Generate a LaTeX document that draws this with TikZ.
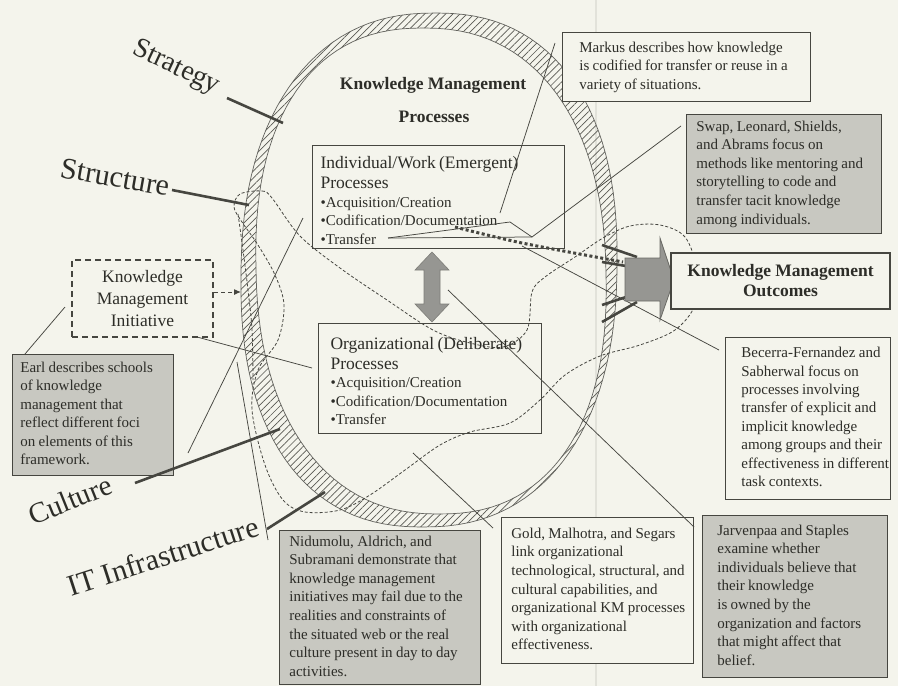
\documentclass[tikz,border=0pt]{standalone}
\usepackage{fontspec}
\setmainfont{Liberation Serif}
\usetikzlibrary{patterns.meta,arrows.meta}
\definecolor{bg}{RGB}{244,244,236}
\definecolor{ink}{RGB}{45,45,40}
\definecolor{linec}{RGB}{70,70,64}
\definecolor{boxgray}{RGB}{200,200,193}
\definecolor{arrowgray}{RGB}{150,150,146}
\definecolor{foldc}{RGB}{226,226,218}
\newcommand{\fs}[2]{\fontsize{#1}{#2}\selectfont}
\newcommand{\rows}[1]{\begin{tabular}{@{}l@{}}#1\end{tabular}}
\begin{document}
\begin{tikzpicture}[x=1pt,y=-1pt,
  every node/.style={text=ink},
  lab/.style={inner sep=0pt},
  callout/.style={draw=linec, line width=0.8pt, anchor=north west, align=left, inner ysep=0pt},
  procbox/.style={draw=linec, line width=1.1pt, anchor=north west, align=left, inner ysep=0pt},
  thinc/.style={draw=linec, line width=0.75pt},
  thickc/.style={draw=linec, line width=2.6pt},
  ringline/.style={draw=linec!85, line width=0.7pt},
  blob/.style={draw=linec, line width=0.8pt, dash pattern=on 3pt off 2pt},
  ringplot/.style={domain=0.5:360.5, samples=121, variable=\t},
]
\useasboundingbox (0,0) rectangle (898,686);
\fill[bg] (0,0) rectangle (898,686);
\draw[foldc, line width=1.2pt] (596,0) -- (596,686);

% hatched ring (outer and inner rounded ovals)
\path[pattern={Lines[angle=45,distance=5pt,line width=0.7pt]}, pattern color=linec!90, even odd rule]
  plot[ringplot] ({429+188*cos(\t)*abs(cos(\t))^(-0.13)-6*sin(\t)}, {270+257*sin(\t)*abs(sin(\t))^(-0.13)}) -- cycle
  plot[ringplot] ({431+175*cos(\t)*abs(cos(\t))^(-0.13)+8*sin(\t)}, {271+243*sin(\t)*abs(sin(\t))^(-0.13)}) -- cycle;
\draw[ringline] plot[ringplot] ({429+188*cos(\t)*abs(cos(\t))^(-0.13)-6*sin(\t)}, {270+257*sin(\t)*abs(sin(\t))^(-0.13)}) -- cycle;
\draw[ringline] plot[ringplot] ({431+175*cos(\t)*abs(cos(\t))^(-0.13)+8*sin(\t)}, {271+243*sin(\t)*abs(sin(\t))^(-0.13)}) -- cycle;

% situated web (dashed blob)
\draw[blob] plot[smooth cycle, tension=0.55] coordinates {(240,194) (262,191) (272,198) (300,236) (340,268) (387,300) (433,330) (470,343) (503,347) (527,330) (532,292) (545,277) (575,257) (603,238) (630,226) (660,225) (685,237) (697,270) (695,305) (675,330) (640,345) (600,356) (565,375) (540,400) (510,423) (470,432) (440,445) (405,470) (370,495) (340,510) (305,512) (283,500) (265,465) (252,410) (258,370) (278,340) (284,305) (275,275) (258,245) (242,222) (234,207)};
\draw[blob] plot[smooth, tension=0.6] coordinates {(238,214) (243,250) (248,290) (252,330) (253,380)};

% callout boxes
\node[callout, fill=bg, inner xsep=17pt, text width=214pt, minimum width=248pt, minimum height=69pt] (markus) at (562,32)
  {\fs{15}{18.6}\rows{Markus describes how knowledge\\is codified for transfer or reuse in a\\variety of situations.}};
\node[callout, fill=boxgray, inner xsep=10pt, text width=175pt, minimum width=195pt, minimum height=119pt] (swap) at (686,114)
  {\fs{15}{18.6}\rows{Swap, Leonard, Shields,\\and Abrams focus on\\methods like mentoring and\\storytelling to code and\\transfer tacit knowledge\\among individuals.}};
\node[callout, fill=bg, inner xsep=16pt, text width=133pt, minimum width=165pt, minimum height=162pt] (becerra) at (725,337)
  {\fs{15}{18.4}\rows{Becerra-Fernandez and\\Sabherwal focus on\\processes involving\\transfer of explicit and\\implicit knowledge\\among groups and their\\effectiveness in different\\task contexts.}};
\node[callout, fill=boxgray, inner xsep=8pt, text width=145pt, minimum width=161pt, minimum height=121pt] (earl) at (12,354)
  {\fs{15}{18.4}\rows{Earl describes schools\\of knowledge\\management that\\reflect different foci\\on elements of this\\framework.}};
\node[callout, fill=boxgray, inner xsep=10pt, text width=181pt, minimum width=201pt, minimum height=154pt] (nidumolu) at (279,530)
  {\fs{15}{18.6}\rows{Nidumolu, Aldrich, and\\Subramani demonstrate that\\knowledge management\\initiatives may fail due to the\\realities and constraints of\\the situated web or the real\\culture present in day to day\\activities.}};
\node[callout, fill=bg, inner xsep=10pt, text width=172pt, minimum width=192pt, minimum height=146pt] (gold) at (501,517)
  {\fs{15}{18.6}\rows{Gold, Malhotra, and Segars\\link organizational\\technological, structural, and\\cultural capabilities, and\\organizational KM processes\\with organizational\\effectiveness.}};
\node[callout, fill=boxgray, inner xsep=15pt, text width=155pt, minimum width=185pt, minimum height=162pt] (jarvenpaa) at (702,515)
  {\fs{15}{18.6}\rows{Jarvenpaa and Staples\\examine whether\\individuals believe that\\their knowledge\\is owned by the\\organization and factors\\that might affect that\\belief.}};

% process boxes
\node[procbox, inner xsep=8pt, text width=236pt, minimum height=103pt] (indiv) at (312,145)
  {\fs{17.5}{20}\rule{0pt}{19pt}Individual/Work (Emergent)\\Processes\par\fs{15}{18.5}\textbullet Acquisition/Creation\\\textbullet Codification/Documentation\\\textbullet Transfer\par};
\node[procbox, inner xsep=12pt, text width=199pt, minimum height=110pt] (org) at (318,323)
  {\fs{17.5}{20}\rule{0pt}{17pt}Organizational (Deliberate)\\Processes\par\fs{15}{18.5}\textbullet Acquisition/Creation\\\textbullet Codification/Documentation\\\textbullet Transfer\par};

% KM processes title
\node[font=\fs{17.5}{20}\bfseries] (kmp1) at (433,85) {Knowledge Management};
\node[font=\fs{17.5}{20}\bfseries] (kmp2) at (434,117) {Processes};

% KM initiative
\node[draw=linec, line width=1.6pt, dash pattern=on 6pt off 4pt, minimum width=141pt, minimum height=77pt, align=center, font=\fs{17.5}{22}] (kmi) at (142.5,298.5) {Knowledge\\Management\\Initiative};
\coordinate (kmiA) at (214,292);
\coordinate (kmiB) at (241,292);
\draw[linec, line width=1pt, dash pattern=on 4pt off 3pt, -{Latex[length=7pt,width=6pt]}] (kmiA) -- (kmiB);

% labels
\node[lab, rotate=-25, font=\fs{28}{30}] (strategy) at (176,68) {Strategy};
\node[lab, rotate=-10, font=\fs{30}{32}] (structure) at (115,177) {Structure};
\node[lab, rotate=22, font=\fs{29}{31}] (culture) at (70,500) {Culture};
\node[lab, rotate=18, font=\fs{30}{32}] (itinfra) at (163,556) {IT Infrastructure};

\coordinate (stA) at (227,98);  \coordinate (stB) at (283,123);
\coordinate (suA) at (172,190); \coordinate (suB) at (249,205);
\coordinate (cuA) at (135,483); \coordinate (cuB) at (280,429);
\coordinate (itA) at (267,529); \coordinate (itB) at (325,492);
\draw[thickc] (stA) -- (stB);
\draw[thickc] (suA) -- (suB);
\draw[thickc] (cuA) -- (cuB);
\draw[thickc] (itA) -- (itB);

% thin connectors
\coordinate (mkA) at (555,43);  \coordinate (mkB) at (500,213);
\coordinate (trA) at (388,238);
\coordinate (swA) at (681,126); \coordinate (swB) at (532,237); \coordinate (swC) at (510,222);
\coordinate (beA) at (522,246); \coordinate (beB) at (719,350);
\coordinate (goA) at (448,290); \coordinate (goB) at (694,527);
\coordinate (gsA) at (413,453); \coordinate (gsB) at (493,528);
\coordinate (eaA) at (25,354);  \coordinate (eaB) at (65,307);
\coordinate (kmiC) at (197,337); \coordinate (orgW) at (312,368);
\coordinate (lnA) at (188,453); \coordinate (lnB) at (303,218);
\coordinate (niA) at (268,540); \coordinate (niB) at (237,362);
\draw[thinc] (mkA) -- (mkB);
\draw[thinc] (trA) -- (swC) -- (swB) -- (swA);
\draw[thinc] (trA) -- (swB);
\draw[thinc] (beA) -- (beB);
\draw[thinc] (goA) -- (goB);
\draw[thinc] (gsA) -- (gsB);
\draw[thinc] (eaA) -- (eaB);
\draw[thinc] (kmiC) -- (orgW);
\draw[thinc] (lnA) -- (lnB);
\draw[thinc] (niA) -- (niB);

% double arrow between process boxes
\fill[arrowgray, draw=linec!70, line width=0.6pt] (432,252) -- (449,270) -- (440,270) -- (440,304) -- (449,304) -- (432,322) -- (415,304) -- (424,304) -- (424,270) -- (415,270) -- cycle;

% dotted line to outcomes
\coordinate (dtA) at (455,227); \coordinate (dtM) at (522,243); \coordinate (dtB) at (623,262);
\draw[linec, line width=3pt, dash pattern=on 3pt off 2.5pt] plot[smooth] coordinates {(dtA) (dtM) (dtB)};

% converging thick lines
\coordinate (c1a) at (602,245); \coordinate (c1b) at (637,257);
\coordinate (c2a) at (602,262); \coordinate (c2b) at (626,266);
\coordinate (c3a) at (602,305); \coordinate (c3b) at (626,297);
\coordinate (c4a) at (602,322); \coordinate (c4b) at (637,302);
\draw[thickc] (c1a) -- (c1b);
\draw[thickc] (c2a) -- (c2b);
\draw[thickc] (c3a) -- (c3b);
\draw[thickc] (c4a) -- (c4b);

% big arrow
\fill[arrowgray, draw=linec!80, line width=0.8pt] (625,258) -- (660,258) -- (660,238) -- (674,280) -- (660,320) -- (660,301) -- (625,301) -- cycle;

% outcomes
\node[draw=linec, fill=bg, line width=2.2pt, minimum width=219pt, minimum height=56pt, align=center, font=\fs{17.5}{20}\bfseries] (kmo) at (780.5,281) {Knowledge Management\\Outcomes};
\end{tikzpicture}
\end{document}
